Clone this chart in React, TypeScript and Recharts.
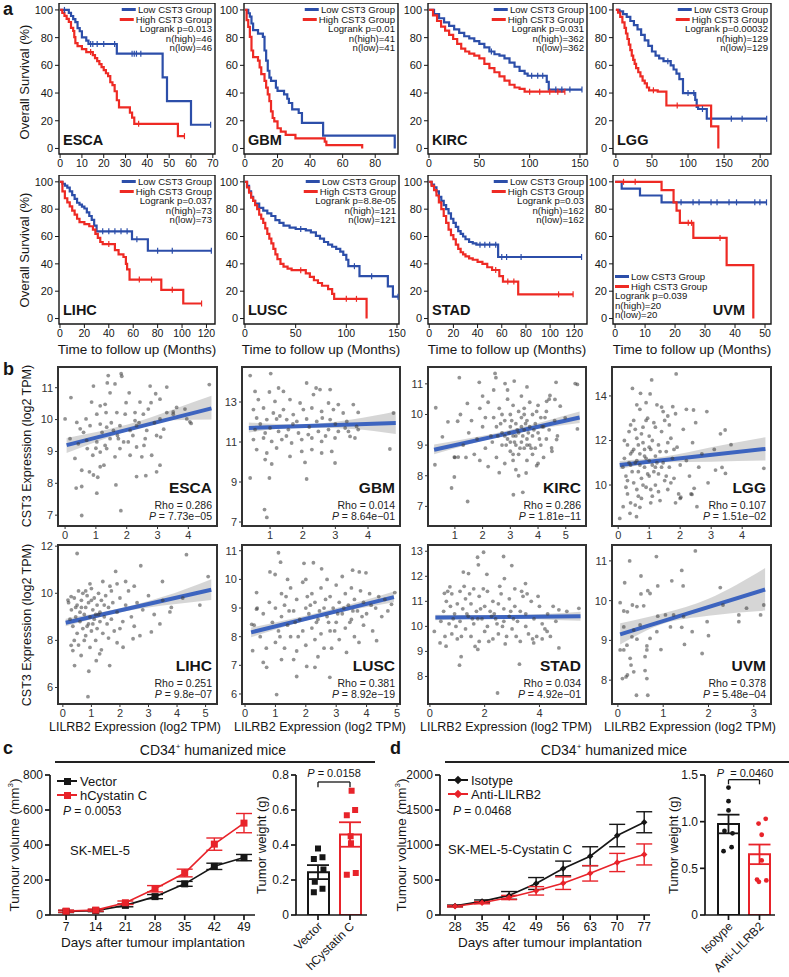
import React from "react";
import {
  LineChart,
  Line,
  XAxis,
  YAxis,
  ReferenceArea,
  ReferenceLine,
  ComposedChart,
  Scatter,
  Area,
  Bar,
  Cell,
  ErrorBar
} from "recharts";

const FONT = "'Liberation Sans', Arial, Helvetica, sans-serif";
const INK = "#161616";
const KM_BLUE = "#2c4ea9";
const KM_RED = "#ee2a24";
const FIT_BLUE = "#3d64bf";
const C_RED = "#e8232a";

// ---------- a: Kaplan-Meier curves  [months, survival %, 1 = censored] ----------
const survTicks = [0, 20, 40, 60, 80, 100];

const escaLow = [[0,100],[2,100,1],[4,97.8],[5,95.6],[6,93.4],[7,91.2],[8,86.8],[9,84.6],[10,80.2],[12,77.9],[13,75.4],[14,75.4,1],[15,75.4,1],[17,75.4,1],[20,75.4,1],[25,75.4,1],[26,68.4],[33,68.4,1],[34,68.4,1],[35,68.4,1],[37,68.4,1],[47,51.3],[49,34.2],[60,17.1],[69,17.1,1]];
const escaHigh = [[0,100],[1,97.8],[2,95.7],[3,93.5],[4,91.3],[5,87],[6,84.8],[6.5,80.4],[7,76.1],[8,73.9],[10,71.7],[12,69.6],[14,69.6,1],[15,67.4],[16,65.2],[17,63],[18,60.9],[19,58.7],[20,56.5],[21,54.3],[22,52.2],[23,47.8],[24,45.7],[25,41.3],[26,34.8],[27,29.6],[32,25.9],[33,22.2],[34,17.8],[36,17.8,1],[54,8.9],[57,8.9,1]];
const gbmLow = [[0,100],[2,97.6],[3,95.1],[4,90.2],[5,85.4],[8,82.9],[11,80.5],[12,70.7],[13,63.4],[14,56.1],[15,51.2],[16,48.8],[19,43.9],[20,41.5],[24,39],[26,35.9],[27,32.8],[29,28.2],[33,25.6],[35,18.5],[48,9.3],[92,9.3],[92,0]];
const gbmHigh = [[0,100],[1,92.7],[2,87.8],[3,80.5],[4,70.7],[5,65.9],[8,63.4],[9,58.5],[10,53.7],[12,48.8],[13,43.9],[14,39],[15,34.1],[16,26.8],[17,22],[18,19.5],[20,14.6],[22,12.2],[25,9.8],[31,7.3],[49,4.9],[50,2.4],[72,2.4],[72,0]];
const kircLow = [[0,100],[5,97],[10,94],[15,91],[20,88.5],[25,86],[30,83.5],[35,81],[40,79.5],[45,77.5],[50,75.5],[55,73],[60,70],[62,70,1],[65,68],[70,67],[75,65],[80,62],[85,59],[90,56],[95,54],[98,52.5],[102,52.5,1],[108,52.5,1],[113,52.5,1],[117,48],[119,42.5],[126,42.5,1],[132,42.5,1],[140,42.5,1],[152,42.5,1]];
const kircHigh = [[0,100],[4,96],[8,92],[12,88],[16,85],[20,82],[24,79],[28,75.5],[32,72],[36,70],[40,68.5],[45,67],[50,65],[55,61],[60,58],[65,55],[70,52],[75,49],[80,46],[85,44],[90,43],[95,41],[100,41,1],[110,41,1],[120,41,1],[128,41,1],[135,41,1]];
const lggLow = [[0,100],[5,99],[10,97],[15,95],[20,92],[25,89],[30,86],[35,82],[40,78],[45,74],[50,70],[55,67],[60,65],[66,63],[72,63,1],[76,60],[80,57],[84,54],[88,50],[93,40],[100,40,1],[108,40,1],[110,35],[112,30],[114,28.5],[120,28.5,1],[126,21.5],[160,21.5,1],[175,21.5,1],[209,21.5,1]];
const lggHigh = [[0,100],[3,98],[6,95],[9,91],[12,87],[14,83],[16,79],[18,75],[20,71],[22,67],[24,64],[26,61],[28,58],[31,55],[34,52],[37,49],[40,47],[43,44],[46,42],[52,42,1],[58,41],[70,31],[85,31,1],[132,16],[142,16],[142,0]];
const lihcLow = [[0,100],[2,98.6],[4,97.2],[6,95.8],[8,93],[10,90.3],[12,87.5],[14,84.7],[16,83.3],[18,81.9],[20,80.5],[22,77.7],[24,75],[26,72.2],[28,68],[30,63.8],[35,63.8,1],[40,63.8,1],[45,63.8,1],[50,63.8,1],[55,63.8,1],[59,58],[63,58,1],[72,49.6],[80,49.6,1],[92,49.6,1],[124,49.6,1]];
const lihcHigh = [[0,100],[2,93],[4,88],[6,85],[8,82],[10,79],[12,76],[14,73],[16,70.5],[20,69],[24,67.5],[27,65],[29,62],[31,59],[33,56],[35,54.5],[40,54.5,1],[45,50],[48,47],[52,45],[54,40],[55,36],[57,28.5],[65,28.5,1],[75,28.5,1],[83,21],[92,21,1],[101,11],[116,11,1]];
const luscLow = [[0,100],[2,97],[4,93],[6,89],[8,86],[10,84],[14,81],[18,79],[22,77],[26,75],[30,72],[34,70],[38,68],[44,66.5],[50,65.5],[55,65.5,1],[60,64.5],[65,63],[70,60.5],[74,58.5],[78,56],[82,54],[86,52.5],[90,51],[94,49],[97,46.5],[100,43],[102,38.3],[108,38.3,1],[113,31],[125,31,1],[141,23.5],[146,16],[151,16,1]];
const luscHigh = [[0,100],[2,96],[4,92],[6,88.5],[8,86],[10,83],[12,80],[14,76],[16,73],[18,70],[20,66],[22,62],[24,58.5],[26,55],[28,51],[30,47],[32,43.5],[35,40],[38,38],[42,36.5],[46,35.4],[55,35.4,1],[60,33],[64,30.5],[68,28],[72,26],[76,24],[82,21.5],[86,18],[88,14.4],[100,14.4,1],[110,14.4,1],[120,14.4],[120,0]];
const stadLow = [[0,100],[2,98],[4,96],[6,93],[8,89],[10,86],[12,83],[14,80],[16,77],[18,73],[20,70],[22,67],[24,64],[26,62],[28,60],[30,58],[33,56],[36,55],[39,54],[42,54,1],[46,54,1],[50,54,1],[55,54,1],[57,45],[60,45,1],[64,45,1],[76,45,1],[126,45,1]];
const stadHigh = [[0,100],[2,97],[4,94],[6,90],[8,85],[10,80],[12,75],[14,70],[16,65],[18,61],[20,58],[22,54],[24,51],[26,48.5],[28,47],[30,45.5],[33,44],[36,43],[40,41.5],[44,40],[48,37.5],[52,35.5],[55,35.5,1],[58,31],[61,27],[65,27,1],[70,27,1],[73.6,17.7],[107,17.7,1],[119,17.7,1]];
const uvmLow = [[0,100],[2.2,95],[8.3,90],[15.5,85],[22,85,1],[26,85,1],[28,85,1],[32,85,1],[34,85,1],[38,85,1],[40.5,85,1],[46.6,85,1],[48.3,85,1],[50.5,85,1]];
const uvmHigh = [[0,100],[2.8,100,1],[6.7,100,1],[15.5,94],[19.5,85],[20.5,79],[21.6,70],[24.4,70,1],[25.5,70,1],[26.1,59],[35,59,1],[37.2,39],[46.1,39],[46.1,0]];

// ---------- b: CST3 vs LILRB2 scatter  [x, y] ----------
const escaPts = [[1.4,11.38],[1.82,11.44],[1.84,11.36],[1.37,11.15],[1.62,11.12],[0.92,11.05],[2.76,11.05],[3.3,11.02],[0.19,10.69],[1.46,10.84],[2.08,10.84],[2.94,10.81],[3.08,10.64],[0.86,10.55],[1.14,10.43],[1.3,10.48],[1.98,10.53],[2.43,10.55],[2.79,10.53],[3.62,10.38],[3.89,10.33],[0,10.02],[0.38,9.91],[0.68,10.02],[1.03,10.17],[1.33,10.22],[1.68,10.22],[1.95,10.17],[2.27,10.22],[2.54,10.17],[2.7,10.33],[3.3,10.22],[3.51,10.17],[3.95,10.02],[4.09,9.88],[4.68,11.1],[0.49,9.71],[0.81,9.81],[1.14,9.86],[1.35,9.76],[1.57,9.66],[1.78,9.81],[2.11,9.66],[2.32,9.81],[2.65,9.66],[2.97,9.5],[3.08,10.02],[0.16,9.4],[0.43,9.24],[0.7,9.35],[1.03,9.3],[1.3,9.19],[1.46,9.4],[1.73,9.4],[2.05,9.3],[2.32,9.14],[2.56,9.19],[0.32,8.78],[0.72,9.09],[0.9,8.88],[1.14,8.98],[1.35,9.09],[1.62,8.83],[1.78,9.09],[2.11,8.88],[2.49,8.83],[2.81,8.88],[3.08,8.57],[1.14,8.52],[1.26,8.57],[0.79,8.36],[0.92,8.26],[1.06,8.19],[0.54,8.41],[2.32,8.21],[2.97,8.36],[2.62,8.24],[0.36,7.85],[0.54,7.9],[1.65,7.95],[1.03,7.69],[0.54,6.99],[1.81,7.14],[2.27,9.97],[3.51,10.24],[4.05,9.93],[1.2,9.6],[1.5,9.9],[1.7,9.5],[2.2,9.5],[2.4,9.9],[2.9,9.9],[3.2,9.7],[1.9,9.3],[0.6,9.6],[1,9.1],[2.6,9.4],[3.1,9.45]];
const gbmPts = [[0.39,14.32],[1.02,14.42],[0.54,13.53],[1.26,13.7],[1.41,13.53],[0.98,13.5],[2.12,13.95],[2.41,13.7],[2.53,13.62],[2.84,13.62],[2.33,13.37],[0.64,13.12],[1.15,13.03],[1.61,13.12],[1.92,12.95],[2.79,12.95],[3.09,12.87],[3.55,12.87],[3.7,12.48],[0.49,12.62],[0.8,12.7],[1.1,12.45],[1.41,12.62],[1.71,12.37],[2.02,12.62],[2.28,12.7],[2.58,12.53],[2.94,12.62],[3.24,12.45],[4.78,12.45],[0.59,12.2],[0.9,12.12],[1.2,12.15],[1.51,12.12],[1.82,12.03],[2.12,12.15],[2.43,12.03],[2.84,12.12],[3.35,12.03],[3.65,11.78],[0.54,11.62],[0.85,11.45],[1.26,11.53],[1.56,11.62],[1.87,11.45],[2.17,11.37],[2.48,11.53],[2.79,11.62],[3.09,11.53],[3.4,11.53],[3.7,11.62],[0.49,11.12],[0.8,11.2],[1.05,11.03],[1.36,11.12],[1.66,10.95],[1.97,11.12],[2.28,11.2],[2.58,11.03],[2.99,11.2],[3.45,11.28],[0.59,10.62],[0.9,10.45],[1.2,10.7],[1.61,10.28],[1.97,10.53],[2.28,10.62],[2.58,10.45],[2.89,10.53],[4.67,10.65],[0.85,10.12],[1.05,9.9],[2.07,9.98],[2.99,9.95],[0.39,9.2],[0.98,9.2],[2.12,9.15],[0.83,7.62],[0.9,7.23],[1.3,12.3],[1.7,11.9],[2.6,12.2],[3,11.9],[0.7,11.9],[1,11.7],[2.2,11.75],[3.3,11.7],[1.5,11.3],[2.7,11.3],[3.6,11.2]];
const kircPts = [[1.16,11.2],[2.45,11.34],[2.48,11.2],[1.88,11.05],[2.81,11.01],[3.14,11.09],[4.65,11.05],[5.34,11.01],[0.31,10.22],[1.45,10.36],[1.1,9.78],[0.75,9.76],[0.55,9.27],[0.28,8.36],[0.98,8.61],[1.12,8.61],[0.98,7.96],[0.88,7.6],[1.46,7.16],[3.11,7.38],[3.45,7.46],[3.57,8.09],[3.95,8.33],[5.42,9.53],[5.42,10.98],[4.31,10.43],[4.43,10.62],[4.61,10.49],[4.8,10.27],[4.98,9.89],[4.67,9.18],[4.49,8.91],[1.6,9.8],[1.8,9.2],[1.9,10.2],[2,9.6],[2.1,8.9],[2.2,10.4],[2.3,9.3],[2.4,9.9],[2.5,8.6],[2.5,9.6],[2.6,10.2],[2.7,9],[2.7,9.4],[2.8,9.8],[2.8,8.4],[2.9,10.5],[2.9,9.2],[3,9.6],[3,8.8],[3,10],[3.1,9.3],[3.1,8.5],[3.1,10.3],[3.2,9],[3.2,9.7],[3.2,8.2],[3.3,9.4],[3.3,10.1],[3.3,8.7],[3.4,9.9],[3.4,9.1],[3.4,10.6],[3.5,9.5],[3.5,8.9],[3.5,10.2],[3.6,9.2],[3.6,8.5],[3.6,9.8],[3.7,10.4],[3.7,9],[3.7,9.6],[3.8,8.7],[3.8,9.3],[3.8,10],[3.9,9.7],[3.9,8.9],[4,10.3],[4,9.4],[4.1,9],[4.1,9.9],[4.2,8.6],[4.2,9.6],[4.3,10.1],[4.3,9.2],[4.4,9.5],[4.5,8.8],[4.6,9.8],[4.7,9.3],[1.5,9.4],[1.7,8.7],[2,10.6],[2.2,8.3],[2.4,10.8],[2.6,8.1],[2.9,10.8],[3.3,8],[3.6,10.9],[4,8.4],[4.4,10.5],[1.3,9],[1.2,10],[2.1,9.9],[2.35,9.1],[2.55,9.3],[2.65,9.7],[2.85,9],[2.95,9.4],[3.05,9.8],[3.15,9.1],[3.25,9.5],[3.35,8.9],[3.45,9.3],[3.55,9.7],[3.65,9.4],[3.75,8.9],[3.85,9.5],[3.95,10.1],[4.05,9.2],[4.15,9.6],[3,9.1],[3.2,9.3],[3.4,9.6],[2.8,9.3],[3.6,9],[3.1,8.7],[3.5,10],[2.7,10],[4.25,9.9],[1.9,8.5],[1.4,8.6],[1,8.6]];
const lggPts = [[1.87,14.99],[0.46,14.34],[1.08,14.72],[1.03,14.09],[0.72,14.12],[1.76,13.52],[2.43,13.37],[2.86,13.3],[3.45,12.47],[3.64,11.81],[4.7,10.75],[3.14,10.67],[3.35,10.79],[3.46,10.52],[2.45,9.85],[2.02,9.45],[2.38,9.58],[2.54,9.03],[0.05,8.5],[0.38,8.73],[0.59,8.58],[0.16,9.03],[0.2,11.2],[0.25,10.4],[0.3,11.8],[0.3,9.6],[0.35,12.4],[0.4,10.9],[0.4,9.2],[0.45,11.5],[0.5,10.1],[0.5,12.9],[0.55,11],[0.6,9.8],[0.6,12.1],[0.65,10.6],[0.7,11.4],[0.7,13.4],[0.75,9.4],[0.75,10.3],[0.8,11.9],[0.8,12.6],[0.85,10.8],[0.9,9.9],[0.9,11.2],[0.95,13],[1,10.4],[1,12.2],[1.05,11.6],[1.1,9.5],[1.1,10.9],[1.15,12.8],[1.2,11.3],[1.2,10],[1.25,13.6],[1.3,11.8],[1.3,10.5],[1.35,9.3],[1.4,12.4],[1.45,11],[1.5,10.2],[1.5,12.9],[1.55,11.5],[1.6,9.8],[1.65,10.8],[1.7,12.1],[1.75,11.2],[1.8,10.3],[1.85,13.2],[1.9,11.7],[1.95,9.6],[2,10.9],[2.1,12.5],[2.2,11.1],[2.3,10.4],[2.4,11.9],[2.5,12.8],[2.6,10.8],[2.7,11.4],[2.9,10.1],[3.1,11.6],[3.3,12.3],[0.15,10.8],[0.2,12],[0.3,10.2],[0.4,11.4],[0.45,10.6],[0.55,12.5],[0.6,11.1],[0.65,9.5],[0.7,10.9],[0.75,12.3],[0.8,10],[0.85,11.6],[0.9,12.9],[0.95,10.5],[1,11.1],[1.05,9.8],[1.1,12],[1.15,10.6],[1.2,12.6],[1.25,11],[1.3,9.7],[1.35,11.5],[1.4,10.8],[1.45,13.3],[1.55,10.4],[1.6,11.9],[1.65,12.7],[1.7,10.1],[1.8,11.6],[0.35,11],[0.5,11.6],[0.65,11.8],[0.85,11.3],[1,11.7],[1.2,10.8],[0.4,12.7],[0.25,9.9],[0.55,9.1],[0.7,9],[1.05,9.2],[0.9,13.7],[1.4,13.5],[1.6,13.1],[2.2,13.4],[0.6,13.6],[2,9.4],[2.35,9.6],[1.85,9.2]];
const lihcPts = [[0.5,11.69],[4.33,11.64],[2.73,11.17],[1.85,10.93],[3.49,10.5],[5.09,10.71],[0.29,9.86],[0.18,9.71],[4.8,9.5],[3.75,9.21],[3.1,8.36],[2.46,8.07],[2.11,7.71],[1.64,6.93],[0.91,6.69],[0.41,6.93],[1.17,7.14],[0.88,5.61],[0.29,7.79],[0.35,7.57],[0.64,7.36],[1.29,7.43],[0.3,9.3],[0.35,8.6],[0.4,9.8],[0.45,9],[0.5,8.3],[0.5,9.5],[0.55,10.1],[0.6,8.8],[0.6,9.2],[0.65,9.7],[0.7,8.5],[0.7,10],[0.75,9.1],[0.8,8.2],[0.8,9.4],[0.85,9.9],[0.9,8.7],[0.9,9.6],[0.95,9],[1,8.4],[1,10.2],[1.05,9.3],[1.1,8.9],[1.1,9.8],[1.15,9.1],[1.2,8.5],[1.2,9.5],[1.25,10],[1.3,8.8],[1.3,9.2],[1.35,9.7],[1.4,8.3],[1.45,9],[1.5,9.9],[1.55,8.7],[1.6,9.4],[1.65,10.3],[1.7,8.9],[1.75,9.6],[1.8,8.4],[1.9,9.2],[2,9.8],[2.1,8.8],[2.2,9.5],[2.3,10.1],[2.4,9],[2.5,8.6],[2.6,9.6],[2.8,9.3],[3,9.9],[3.2,9.1],[3.5,9.7],[3.8,9.4],[4.2,9.8],[0.2,9.6],[0.25,8.9],[0.4,8],[0.55,7.8],[0.75,8],[0.95,7.7],[1.15,8],[1.35,7.6],[1.6,8.1],[1.9,7.9],[0.85,8.6],[1.05,8.7],[0.65,9.4],[1.25,9.1],[1.45,9.5],[0.45,9.4],[1.7,10.1],[1,9.7],[0.8,10.1],[2.2,10.5],[1.4,10.5],[0.95,10.4],[2.7,8.2],[2,8.5],[3.4,8.7],[2.5,10.3],[1.9,10.4]];
const luscPts = [[1.1,10.93],[1.17,10.6],[1.94,10.56],[2.25,10.58],[0.99,10.17],[0.82,10.26],[2.52,10.37],[3.54,10.32],[3.76,10.26],[3.98,10.23],[0.38,9.54],[0.38,8.96],[0.22,8.43],[0.25,7.51],[0.6,7.1],[0.71,6.93],[1.04,5.98],[1.7,6.61],[2.03,6.96],[2.3,6.93],[2.79,6.58],[3.34,7.45],[4.33,7.86],[4.82,9.13],[4.93,9.54],[0.8,9.2],[0.9,8.5],[1,7.8],[1,9],[1.1,8.2],[1.2,9.5],[1.2,8.7],[1.3,7.6],[1.3,9.1],[1.4,8.4],[1.5,9.7],[1.5,8],[1.6,8.9],[1.7,7.5],[1.7,9.3],[1.8,8.6],[1.9,9.9],[1.9,8.2],[2,9],[2,7.7],[2.1,8.8],[2.2,9.5],[2.2,8.3],[2.3,9.2],[2.3,7.9],[2.4,8.6],[2.5,9.7],[2.5,8.1],[2.6,9],[2.6,7.6],[2.7,8.7],[2.8,9.4],[2.8,8.2],[2.9,9],[3,8.5],[3,9.8],[3.1,7.9],[3.1,9.2],[3.2,8.8],[3.3,9.5],[3.3,8.3],[3.4,9.1],[3.5,8.6],[3.5,9.7],[3.6,8],[3.6,9.3],[3.7,8.9],[3.8,9.6],[3.9,8.4],[3.9,9.2],[4,8.8],[4.1,9.5],[4.2,8.2],[4.3,9],[4.4,9.4],[4.5,8.7],[4.6,9.3],[4.7,8.9],[0.5,8],[0.6,8.8],[0.7,7.6],[0.4,9],[0.3,8.4],[1.15,8],[1.45,8.9],[1.75,8],[2.05,9.4],[2.35,8.5],[2.65,9.3],[2.95,8.2],[3.25,9],[3.55,8.9],[3.85,8.7],[4.15,9.1],[2.15,9.1],[2.45,8.9],[2.75,8.5],[3.05,8.8],[3.45,8.5],[1.65,8.5],[1.35,9.4],[2.85,7.6],[3.75,7.8],[2.4,7.3],[1.6,7.2],[1.2,7.2],[2,10],[2.7,10],[3.2,10.1],[1.4,10]];
const stadPts = [[1.74,12.76],[1.96,12.96],[2.69,12.79],[2.99,12.43],[1.77,12.46],[1.22,12.17],[1.41,12.11],[2.08,12.08],[2.72,11.91],[3.49,11.71],[0.73,11.58],[0.53,11.32],[0.16,9.8],[0.37,9.34],[0.59,9.21],[1.14,8.79],[1.08,8.45],[1.75,9.08],[2.47,7.34],[3.27,8.49],[3.79,9.34],[4.28,9.8],[4.71,9.14],[4.71,10.66],[5.44,10.72],[0.5,10.6],[0.6,11],[0.7,10.1],[0.8,11.3],[0.8,9.7],[0.9,10.5],[1,10.9],[1,9.5],[1.1,11.4],[1.1,10.2],[1.2,10.7],[1.3,9.9],[1.3,11.1],[1.4,10.4],[1.5,9.6],[1.5,10.9],[1.6,11.5],[1.6,10.1],[1.7,10.6],[1.8,9.4],[1.8,11.2],[1.9,10.3],[2,10.8],[2,9.8],[2.1,11.4],[2.1,10],[2.2,10.6],[2.3,9.5],[2.3,11],[2.4,10.3],[2.5,10.9],[2.5,9.7],[2.6,11.3],[2.7,10.2],[2.7,10.7],[2.8,9.6],[2.9,11.1],[2.9,10.4],[3,9.9],[3.1,10.8],[3.1,11.5],[3.2,10.2],[3.3,9.4],[3.3,10.6],[3.4,11.2],[3.5,10],[3.5,10.5],[3.6,9.7],[3.7,11],[3.8,10.3],[3.9,9.6],[4,10.8],[4.1,10.1],[4.2,9.9],[4.3,10.5],[4.6,10.2],[5,10.6],[0.4,10.2],[0.55,9.6],[0.65,11.4],[0.75,10.8],[0.95,10],[1.15,9.6],[1.25,11.6],[1.45,11.3],[1.65,9.2],[1.75,10.3],[1.95,11.5],[2.15,9.4],[2.35,10.5],[2.55,11.6],[2.75,9.3],[2.95,10.6],[3.15,9.6],[3.35,11.4],[3.55,11.3],[3.75,9.5],[3.95,11.2],[4.1,9.5],[1.35,10.5],[1.85,10.7],[2.45,10.1],[3.05,10.3],[2.65,10],[2.25,10.4],[1.55,10.3],[0.85,10.3],[4.4,9.6],[4.5,10.8]];
const uvmPts = [[0.26,11],[0.85,11.11],[1.71,11.25],[0.51,10.62],[0.51,10.17],[0.66,10.25],[0.71,10.18],[0.88,10.37],[1.19,10.5],[1.41,10.76],[1.44,10.37],[2.26,10.33],[0.05,9.95],[0.13,9.74],[0.21,9.72],[0.32,9.89],[0.42,9.85],[0.15,10.45],[0.57,9.87],[0.88,9.61],[1.05,9.64],[1.23,9.64],[1.41,9.33],[1.64,9.22],[2,9.12],[2.32,9.89],[2.67,9.64],[2.84,9.81],[3.22,9.89],[2.67,9.47],[0.05,8.76],[0.13,8.76],[0.2,8.88],[0.27,8.55],[0.29,8.38],[0.35,8.21],[0.21,8.13],[0.1,8.04],[0.18,8.08],[0.42,9.03],[0.64,8.86],[0.64,8.76],[0.6,8.59],[0.6,8.24],[0.64,8.04],[0.71,9.05],[0.95,8.77],[0.41,7.62],[0.66,7.62],[1.86,8.67],[1.47,8.9],[0.13,9.34],[0.35,9.26],[0.49,9.39],[0.31,9.09],[0.86,9.22],[1.16,9.34],[1.97,9.47],[1.45,9.6],[3.15,9.64]];

// regression fit [x, y] and confidence band [x, lo, hi]
const escaFit = [[0.05,9.2],[4.75,10.35]];
const escaBand = [[0.05,8.95,9.42],[1.5,9.47,9.72],[2.5,9.78,9.98],[3.5,9.98,10.32],[4.75,10.0,10.75]];
const gbmFit = [[0.35,11.7],[4.85,11.95]];
const gbmBand = [[0.35,11.48,11.98],[2,11.72,11.88],[3.5,11.65,12.12],[4.85,11.4,12.52]];
const kircFit = [[0.25,8.85],[5.5,9.9]];
const kircBand = [[0.25,8.7,9.02],[3,9.36,9.5],[5.5,9.72,10.1]];
const lggFit = [[0.05,10.9],[4.75,11.62]];
const lggBand = [[0.05,10.72,11.08],[1.5,11.02,11.28],[3,11.05,11.7],[4.75,11.1,12.15]];
const lihcFit = [[0.1,8.75],[5.2,10.15]];
const lihcBand = [[0.1,8.6,8.92],[2,9.2,9.36],[3.5,9.48,9.85],[5.2,9.72,10.6]];
const luscFit = [[0.2,8.15],[4.9,9.38]];
const luscBand = [[0.2,7.98,8.32],[2.5,8.7,8.86],[4.9,9.2,9.58]];
const stadFit = [[0.2,10.35],[5.5,10.4]];
const stadBand = [[0.2,10.24,10.46],[2.5,10.32,10.44],[5.5,10.22,10.58]];
const uvmFit = [[0.05,9.15],[3.25,10.28]];
const uvmBand = [[0.05,8.9,9.43],[1,9.42,9.68],[2,9.62,10.05],[3.25,9.75,10.82]];

// ---------- c / d: tumour growth ----------
const daysC = [7, 14, 21, 28, 35, 42, 49];
const vectorVol = [20, 25, 55, 105, 178, 278, 328];
const vectorSem = [6, 6, 8, 12, 14, 18, 18];
const hcysVol = [22, 28, 70, 150, 240, 405, 525];
const hcysSem = [6, 6, 10, 18, 22, 35, 55];

const daysD = [28, 35, 42, 49, 56, 63, 70, 77];
const isoVol = [130, 195, 280, 450, 665, 840, 1135, 1325];
const isoSem = [12, 20, 55, 85, 105, 135, 160, 150];
const antiVol = [125, 175, 250, 345, 455, 595, 750, 865];
const antiSem = [10, 15, 30, 60, 90, 110, 130, 150];

const weightCatsC = ["Vector", "hCystatin C"];
const weightMeanC = [0.245, 0.46];
const weightSemC = [0.04, 0.07];
const vectorWeights = [[0.5,0.38],[0.37,0.32],[0.64,0.33],[0.67,0.26],[0.4,0.19],[0.64,0.15],[0.37,0.13]];
const hcysWeights = [[1.55,0.71],[1.66,0.6],[1.4,0.57],[1.52,0.45],[1.53,0.41],[1.68,0.24],[1.4,0.23]];

const weightCatsD = ["Isotype", "Anti-LILRB2"];
const weightMeanD = [0.975, 0.65];
const weightSemD = [0.1, 0.105];
const isoWeights = [[0.5,1.365],[0.5,1.22],[0.5,1.12],[0.37,0.9],[0.63,0.875],[0.34,0.684],[0.6,0.727]];
const antiWeights = [[1.7,1.03],[1.47,0.98],[1.57,0.86],[1.57,0.585],[1.42,0.38],[1.72,0.37],[1.48,0.355]];

// ---------- helpers ----------
const Txt = ({ x, y, a = "start", s = 12, b = false, r = 0, c = INK, children }: any) => {
  const tx = a === "start" ? "0%" : a === "end" ? "-100%" : "-50%";
  return (
    <div
      style={{
        position: "absolute",
        left: x,
        top: y,
        transform: `translate(${tx},-50%)${r ? ` rotate(${r}deg)` : ""}`,
        fontSize: s,
        fontWeight: b ? 700 : 400,
        color: c,
        whiteSpace: "nowrap",
        lineHeight: 1
      }}
    >
      {children}
    </div>
  );
};

const toKM = (a: number[][]) => a.map((p) => ({ t: p[0], s: p[1], c: p[2] || 0 }));

const censor = (color: string) => (p: any) => {
  if (!p.payload || !p.payload.c) return <g key={`c${p.index}`} />;
  return <path key={`c${p.index}`} d={`M${p.cx},${p.cy - 3}V${p.cy + 3}`} stroke={color} strokeWidth={1.2} />;
};

const LEG_ROW = 9.6;
const LegRow = ({ color, text }: any) => (
  <div style={{ height: LEG_ROW, lineHeight: `${LEG_ROW}px`, whiteSpace: "nowrap" }}>
    {color && (
      <span
        style={{
          display: "inline-block",
          width: 14,
          height: 3,
          background: color,
          marginRight: 2,
          verticalAlign: "middle",
          position: "relative",
          top: -1
        }}
      />
    )}
    {text}
  </div>
);

const KM = ({ fx, fy, fw, fh, xd, xt, low, high, name, p, n, bottom }: any) => {
  const yw = 30;
  const xh = 18;
  const rm = 12;
  return (
    <>
      <div style={{ position: "absolute", left: fx - yw, top: fy }}>
        <LineChart width={fw + yw + rm} height={fh + xh} margin={{ top: 0, right: rm, bottom: 0, left: 0 }}>
          <XAxis type="number" dataKey="t" domain={xd} ticks={xt} allowDataOverflow interval={0}
            axisLine={false} tickSize={4} height={xh} tick={{ fontSize: 10.5, fill: INK }} tickLine={{ stroke: INK }} />
          <YAxis type="number" domain={[-4, 105]} ticks={survTicks} allowDataOverflow interval={0}
            axisLine={false} tickSize={4} width={yw} tick={{ fontSize: 11, fill: INK }} tickLine={{ stroke: INK }} />
          <Line data={toKM(low)} dataKey="s" type="stepAfter" stroke={KM_BLUE} strokeWidth={2.2}
            dot={censor(KM_BLUE)} activeDot={false} isAnimationActive={false} />
          <Line data={toKM(high)} dataKey="s" type="stepAfter" stroke={KM_RED} strokeWidth={2.2}
            dot={censor(KM_RED)} activeDot={false} isAnimationActive={false} />
          <ReferenceArea x1={xd[0]} x2={xd[1]} y1={-4} y2={105} fill="none" stroke={INK} strokeWidth={1.4} />
        </LineChart>
      </div>
      <div
        style={
          bottom
            ? { position: "absolute", left: fx + 2, top: fy + 97, fontSize: 9.6, textAlign: "left" }
            : { position: "absolute", left: fx + fw - 3, top: fy + 2, transform: "translateX(-100%)", fontSize: 9.6, textAlign: "right" }
        }
      >
        <LegRow color={KM_BLUE} text="Low CST3 Group" />
        <LegRow color={KM_RED} text="High CST3 Group" />
        <LegRow text={`Logrank p=${p}`} />
        <LegRow text={`n(high)=${n}`} />
        <LegRow text={`n(low)=${n}`} />
      </div>
      {bottom ? (
        <Txt x={fx + fw - 26} y={fy + fh - 14} a="end" s={14.5} b>{name}</Txt>
      ) : (
        <Txt x={fx + 4} y={fy + fh - 14} s={14.5} b>{name}</Txt>
      )}
    </>
  );
};

const dotShape = (p: any) => <circle cx={p.cx} cy={p.cy} r={1.9} fill="#3a3a3a" fillOpacity={0.55} />;

const Corr = ({ fx, fy, fw, fh, xd, yd, xt, yt, pts, band, fit, name, rho, p }: any) => {
  const yw = 18;
  const xh = 16;
  const rm = 6;
  const tm = 7;
  return (
    <>
      <div style={{ position: "absolute", left: fx - yw, top: fy - tm }}>
        <ComposedChart width={fw + yw + rm} height={fh + xh + tm} margin={{ top: tm, right: rm, bottom: 0, left: 0 }}>
          <XAxis type="number" dataKey="x" domain={xd} ticks={xt} allowDataOverflow interval={0}
            axisLine={false} tickSize={3} height={xh} tick={{ fontSize: 11, fill: "#333" }} tickLine={{ stroke: "#333" }} />
          <YAxis type="number" domain={yd} ticks={yt} allowDataOverflow interval={0}
            axisLine={false} tickSize={3} width={yw} tick={{ fontSize: 11, fill: "#333" }} tickLine={{ stroke: "#333" }} />
          <Scatter data={pts.map(([x, y]: number[]) => ({ x, y }))} dataKey="y" shape={dotShape} isAnimationActive={false} />
          <Area data={band.map(([x, lo, hi]: number[]) => ({ x, r: [lo, hi] }))} dataKey="r" type="monotone"
            stroke="none" fill="#b5b5b5" fillOpacity={0.55} activeDot={false} isAnimationActive={false} />
          <Line data={fit.map(([x, y]: number[]) => ({ x, y }))} dataKey="y" stroke={FIT_BLUE} strokeWidth={4}
            dot={false} activeDot={false} isAnimationActive={false} />
          <ReferenceArea x1={xd[0]} x2={xd[1]} y1={yd[0]} y2={yd[1]} fill="none" stroke="#333" strokeWidth={2} />
        </ComposedChart>
      </div>
      <Txt x={fx + fw - 5} y={fy + fh - 38} a="end" s={15.5} b>{name}</Txt>
      <Txt x={fx + fw - 5} y={fy + fh - 21} a="end" s={10.5} c="#222">Rho = {rho}</Txt>
      <Txt x={fx + fw - 5} y={fy + fh - 10} a="end" s={10.5} c="#222"><i>P</i> = {p}</Txt>
    </>
  );
};

const sqDot = (color: string, size: number) => (p: any) => (
  <rect key={`s${p.index}`} x={p.cx - size / 2} y={p.cy - size / 2} width={size} height={size} fill={color} />
);
const diaDot = (color: string, size: number) => (p: any) => (
  <path key={`d${p.index}`} d={`M${p.cx},${p.cy - size}L${p.cx + size},${p.cy}L${p.cx},${p.cy + size}L${p.cx - size},${p.cy}Z`} fill={color} />
);

const axisStyle = { stroke: INK, strokeWidth: 1.7 };
const TOP_M = 10; // headroom above the 775px axis top

const Growth = ({ left, plotW, yw, xd, days, yMax, yTicks, a, aE, b, bE, colA, colB, marker }: any) => {
  const data = days.map((d: number, i: number) => ({ day: d, a: a[i], aE: aE[i], b: b[i], bE: bE[i] }));
  return (
    <div style={{ position: "absolute", left: left - yw, top: 775 - TOP_M }}>
      <LineChart width={yw + plotW + 4} height={TOP_M + 140 + 22} margin={{ top: TOP_M, right: 4, bottom: 0, left: 0 }} data={data}>
        <XAxis type="number" dataKey="day" domain={xd} ticks={days} allowDataOverflow interval={0} height={22}
          tickSize={5} axisLine={axisStyle} tickLine={axisStyle} tick={{ fontSize: 12, fill: INK }} />
        <YAxis domain={[0, yMax]} ticks={yTicks} interval={0} width={yw} tickSize={5}
          axisLine={axisStyle} tickLine={axisStyle} tick={{ fontSize: 12, fill: INK }} />
        <Line dataKey="a" stroke={colA} strokeWidth={1.6} dot={marker(colA)} activeDot={false} isAnimationActive={false}>
          <ErrorBar dataKey="aE" width={8} stroke={colA} strokeWidth={1.4} direction="y" />
        </Line>
        <Line dataKey="b" stroke={colB} strokeWidth={1.6} dot={marker(colB)} activeDot={false} isAnimationActive={false}>
          <ErrorBar dataKey="bE" width={8} stroke={colB} strokeWidth={1.4} direction="y" />
        </Line>
      </LineChart>
    </div>
  );
};

const RotTick = (props: any) => {
  const { x, y, payload } = props;
  return (
    <text x={x + 5} y={y + 5} textAnchor="end" fontSize={12} fill={INK} transform={`rotate(-45 ${x + 5} ${y + 5})`}>
      {payload.value}
    </text>
  );
};

const fmtW = (v: number) => (v === 0 ? "0" : v.toFixed(1));

const Weights = ({ left, plotW, pad, yMax, yTicks, cats, mean, sem, colors, groups, shapes, br }: any) => {
  const yw = 32;
  const data = cats.map((name: string, i: number) => ({ name, m: mean[i] }));
  return (
    <div style={{ position: "absolute", left: left - yw, top: 775 - TOP_M }}>
      <ComposedChart width={yw + plotW + 2} height={TOP_M + 140 + 62} margin={{ top: TOP_M, right: 2, bottom: 0, left: 0 }} data={data}>
        <XAxis xAxisId="c" dataKey="name" type="category" padding={pad} height={62} interval={0} tickSize={5}
          axisLine={axisStyle} tickLine={axisStyle} tick={<RotTick />} />
        <XAxis xAxisId="n" dataKey="x" type="number" domain={[0, 2]} padding={pad} allowDataOverflow hide />
        <YAxis domain={[0, yMax]} ticks={yTicks} tickFormatter={fmtW} interval={0} width={yw} tickSize={5}
          allowDataOverflow axisLine={axisStyle} tickLine={axisStyle} tick={{ fontSize: 12, fill: INK }} />
        <Bar xAxisId="c" dataKey="m" barSize={21} fill="#fff" strokeWidth={2} isAnimationActive={false}>
          {colors.map((c: string, i: number) => <Cell key={i} stroke={c} />)}
        </Bar>
        {groups.map((g: number[][], i: number) => (
          <Scatter key={`p${i}`} xAxisId="n" data={g.map(([x, y]) => ({ x, y }))} dataKey="y" shape={shapes[i]} isAnimationActive={false} />
        ))}
        {mean.map((m: number, i: number) => (
          <Scatter key={`e${i}`} xAxisId="n" data={[{ x: i + 0.5, y: m, e: sem[i] }]} dataKey="y"
            shape={() => <g />} isAnimationActive={false}>
            <ErrorBar dataKey="e" direction="y" width={11} stroke={colors[i]} strokeWidth={1.8} />
          </Scatter>
        ))}
        <ReferenceLine xAxisId="n" segment={[{ x: 0.5, y: br[0] }, { x: 1.5, y: br[0] }]} stroke={INK} strokeWidth={1.3} ifOverflow="visible" />
        <ReferenceLine xAxisId="n" segment={[{ x: 0.5, y: br[0] }, { x: 0.5, y: br[1] }]} stroke={INK} strokeWidth={1.3} ifOverflow="visible" />
        <ReferenceLine xAxisId="n" segment={[{ x: 1.5, y: br[0] }, { x: 1.5, y: br[1] }]} stroke={INK} strokeWidth={1.3} ifOverflow="visible" />
      </ComposedChart>
    </div>
  );
};

const sqShape = (color: string) => (p: any) => <rect x={p.cx - 3} y={p.cy - 3} width={6} height={6} fill={color} />;
const dotSmall = (color: string) => (p: any) => <circle cx={p.cx} cy={p.cy} r={2.4} fill={color} />;

const LegendLine = ({ x, y, color, marker, text }: any) => (
  <>
    <div style={{ position: "absolute", left: x, top: y - 0.8, width: 20, height: 1.8, background: color }} />
    {marker === "sq" ? (
      <div style={{ position: "absolute", left: x + 7, top: y - 3.5, width: 7, height: 7, background: color }} />
    ) : (
      <div style={{ position: "absolute", left: x + 7, top: y - 3.5, width: 6, height: 6, background: color, transform: "rotate(45deg)" }} />
    )}
    <Txt x={x + 23} y={y} s={13}>{text}</Txt>
  </>
);

export default function App() {
  return (
    <div style={{ position: "absolute", left: 0, top: 0, width: 789, height: 977, background: "#fff", fontFamily: FONT, color: INK, overflow: "hidden" }}>
      {/* panel a */}
      <Txt x={3} y={9} s={18} b>a</Txt>
      <Txt x={24} y={82} a="middle" r={-90} s={13}>Overall Survival (%)</Txt>
      <Txt x={24} y={250} a="middle" r={-90} s={13}>Overall Survival (%)</Txt>
      <KM fx={59} fy={3} fw={156} fh={151} xd={[-0.5, 71]} xt={[0, 10, 20, 30, 40, 50, 60, 70]} low={escaLow} high={escaHigh} name="ESCA" p="0.013" n={46} />
      <KM fx={244} fy={3} fw={154} fh={151} xd={[-0.6, 94]} xt={[0, 20, 40, 60, 80]} low={gbmLow} high={gbmHigh} name="GBM" p="0.01" n={41} />
      <KM fx={428} fy={3} fw={159} fh={151} xd={[-1, 157]} xt={[0, 50, 100, 150]} low={kircLow} high={kircHigh} name="KIRC" p="0.031" n={362} />
      <KM fx={613} fy={3} fw={158} fh={151} xd={[-4, 215]} xt={[0, 50, 100, 150, 200]} low={lggLow} high={lggHigh} name="LGG" p="0.00032" n={129} />
      <KM fx={59} fy={175} fw={156} fh={149} xd={[-0.8, 127]} xt={[0, 20, 40, 60, 80, 100, 120]} low={lihcLow} high={lihcHigh} name="LIHC" p="0.037" n={73} />
      <KM fx={244} fy={175} fw={155} fh={149} xd={[-1, 152]} xt={[0, 50, 100, 150]} low={luscLow} high={luscHigh} name="LUSC" p="8.8e-05" n={121} />
      <KM fx={428} fy={175} fw={159} fh={149} xd={[-1, 130.5]} xt={[0, 20, 40, 60, 80, 100, 120]} low={stadLow} high={stadHigh} name="STAD" p="0.03" n={162} />
      <KM fx={613} fy={175} fw={158} fh={149} xd={[-0.7, 52]} xt={[0, 10, 20, 30, 40, 50]} low={uvmLow} high={uvmHigh} name="UVM" p="0.039" n={20} bottom />
      <Txt x={137} y={350} a="middle" s={13.5}>Time to follow up (Months)</Txt>
      <Txt x={321} y={350} a="middle" s={13.5}>Time to follow up (Months)</Txt>
      <Txt x={507} y={350} a="middle" s={13.5}>Time to follow up (Months)</Txt>
      <Txt x={692} y={350} a="middle" s={13.5}>Time to follow up (Months)</Txt>

      {/* panel b */}
      <Txt x={3} y={369} s={18} b>b</Txt>
      <Txt x={27} y={446} a="middle" r={-90} s={12.5}>CST3 Expression (log2 TPM)</Txt>
      <Txt x={27} y={625} a="middle" r={-90} s={12.5}>CST3 Expression (log2 TPM)</Txt>
      <Corr fx={58} fy={367} fw={159} fh={159} xd={[-0.23, 4.93]} yd={[6.66, 11.65]} xt={[0, 1, 2, 3, 4]} yt={[7, 8, 9, 10, 11]} pts={escaPts} band={escaBand} fit={escaFit} name="ESCA" rho="0.286" p="7.73e−05" />
      <Corr fx={242} fy={367} fw={158} fh={159} xd={[0.14, 4.98]} yd={[6.8, 14.75]} xt={[1, 2, 3, 4]} yt={[7, 9, 11, 13]} pts={gbmPts} band={gbmBand} fit={gbmFit} name="GBM" rho="0.014" p="8.64e−01" />
      <Corr fx={428} fy={367} fw={158} fh={159} xd={[0.03, 5.73]} yd={[6.36, 11.55]} xt={[1, 2, 3, 4, 5]} yt={[7, 8, 9, 10, 11]} pts={kircPts} band={kircBand} fit={kircFit} name="KIRC" rho="0.286" p="1.81e−11" />
      <Corr fx={612} fy={367} fw={159} fh={159} xd={[-0.2, 4.93]} yd={[8.16, 15.3]} xt={[0, 1, 2, 3, 4]} yt={[10, 12, 14]} pts={lggPts} band={lggBand} fit={lggFit} name="LGG" rho="0.107" p="1.51e−02" />
      <Corr fx={58} fy={545} fw={159} fh={159} xd={[-0.17, 5.4]} yd={[5.3, 12.05]} xt={[0, 1, 2, 3, 4, 5]} yt={[6, 8, 10, 12]} pts={lihcPts} band={lihcBand} fit={lihcFit} name="LIHC" rho="0.251" p="9.8e−07" />
      <Corr fx={242} fy={545} fw={158} fh={159} xd={[-0.1, 5.1]} yd={[5.65, 11.2]} xt={[0, 1, 2, 3, 4, 5]} yt={[6, 7, 8, 9, 10, 11]} pts={luscPts} band={luscBand} fit={luscFit} name="LUSC" rho="0.381" p="8.92e−19" />
      <Corr fx={428} fy={545} fw={158} fh={159} xd={[-0.07, 5.7]} yd={[6.9, 13.25]} xt={[0, 2, 4]} yt={[8, 9, 10, 11, 12, 13]} pts={stadPts} band={stadBand} fit={stadFit} name="STAD" rho="0.034" p="4.92e−01" />
      <Corr fx={612} fy={545} fw={159} fh={159} xd={[-0.13, 3.38]} yd={[7.4, 11.4]} xt={[0, 1, 2, 3]} yt={[8, 9, 10, 11]} pts={uvmPts} band={uvmBand} fit={uvmFit} name="UVM" rho="0.378" p="5.48e−04" />
      <Txt x={135} y={727} a="middle" s={12.5}>LILRB2 Expression (log2 TPM)</Txt>
      <Txt x={320} y={727} a="middle" s={12.5}>LILRB2 Expression (log2 TPM)</Txt>
      <Txt x={506} y={727} a="middle" s={12.5}>LILRB2 Expression (log2 TPM)</Txt>
      <Txt x={690} y={727} a="middle" s={12.5}>LILRB2 Expression (log2 TPM)</Txt>

      {/* panel c */}
      <Txt x={3} y={748} s={18} b>c</Txt>
      <Txt x={213} y={750} a="middle" s={14}>CD34<sup style={{ fontSize: 8 }}>+</sup> humanized mice</Txt>
      <div style={{ position: "absolute", left: 55, top: 761, width: 320, height: 1.5, background: "#222" }} />
      <Txt x={14} y={845} a="middle" r={-90} s={13.5}>Tumour volume (mm<sup style={{ fontSize: 8 }}>3</sup>)</Txt>
      <Growth left={50} plotW={205} yw={40} xd={[3.2, 51.6]} days={daysC} yMax={800} yTicks={[0, 200, 400, 600, 800]}
        a={vectorVol} aE={vectorSem} b={hcysVol} bE={hcysSem} colA={INK} colB={C_RED} marker={(c: string) => sqDot(c, 7)} />
      <LegendLine x={57} y={781} color={INK} marker="sq" text="Vector" />
      <LegendLine x={57} y={795} color={C_RED} marker="sq" text="hCystatin C" />
      <Txt x={63} y={811} s={12}><i>P</i> = 0.0053</Txt>
      <Txt x={70} y={850} s={13}>SK-MEL-5</Txt>
      <Txt x={153} y={943} a="middle" s={13.5}>Days after tumour implantation</Txt>
      <Txt x={261} y={845} a="middle" r={-90} s={13}>Tumor weight (g)</Txt>
      <Weights left={296} plotW={71} pad={{ left: 6, right: 1 }} yMax={0.8} yTicks={[0, 0.2, 0.4, 0.6, 0.8]}
        cats={weightCatsC} mean={weightMeanC} sem={weightSemC} colors={[INK, C_RED]}
        groups={[vectorWeights, hcysWeights]} shapes={[sqShape(INK), sqShape(C_RED)]} br={[0.76, 0.73]} />
      <Txt x={334} y={773} a="middle" s={11}><i>P</i> = 0.0158</Txt>

      {/* panel d */}
      <Txt x={390} y={748} s={18} b>d</Txt>
      <Txt x={614} y={750} a="middle" s={14}>CD34<sup style={{ fontSize: 8 }}>+</sup> humanized mice</Txt>
      <div style={{ position: "absolute", left: 445, top: 761, width: 344, height: 1.5, background: "#222" }} />
      <Txt x={401} y={845} a="middle" r={-90} s={13.5}>Tumour volume (mm<sup style={{ fontSize: 8 }}>3</sup>)</Txt>
      <Growth left={440} plotW={210} yw={44} xd={[24.1, 78.5]} days={daysD} yMax={2000} yTicks={[0, 500, 1000, 1500, 2000]}
        a={isoVol} aE={isoSem} b={antiVol} bE={antiSem} colA={INK} colB={C_RED} marker={(c: string) => diaDot(c, 3.2)} />
      <LegendLine x={448} y={780} color={INK} marker="dia" text="Isotype" />
      <LegendLine x={448} y={794} color={C_RED} marker="dia" text="Anti-LILRB2" />
      <Txt x={453} y={811} s={12}><i>P</i> = 0.0468</Txt>
      <Txt x={448} y={849} s={13}>SK-MEL-5-Cystatin C</Txt>
      <Txt x={550} y={943} a="middle" s={13.5}>Days after tumour implantation</Txt>
      <Txt x={673} y={845} a="middle" r={-90} s={13}>Tumor weight (g)</Txt>
      <Weights left={705} plotW={70} pad={{ left: 8, right: 0 }} yMax={1.5} yTicks={[0, 0.5, 1, 1.5]}
        cats={weightCatsD} mean={weightMeanD} sem={weightSemD} colors={[INK, C_RED]}
        groups={[isoWeights, antiWeights]} shapes={[dotSmall(INK), dotSmall(C_RED)]} br={[1.45, 1.4]} />
      <Txt x={745} y={773} a="middle" s={11}><i>P</i> &nbsp;= 0.0460</Txt>
    </div>
  );
}
